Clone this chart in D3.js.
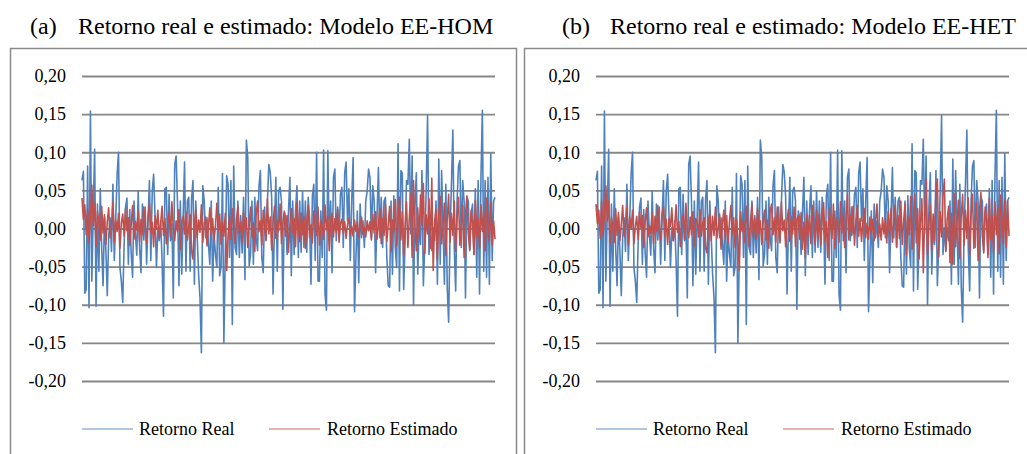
<!DOCTYPE html>
<meta charset="utf-8">
<script src="https://d3js.org/d3.v7.min.js"></script>
<style>
  body { margin: 0; background: #fff; }
</style>
<div id="chart"></div>
<script>

// retornos em % (0.063 -> 6.3)
var retornoReal = [
  6.3, 7.5, -8.5, -8.0, 8.2, -10.4, 15.4, -6.9, 2.0, 10.4,
  -10.2, 3.2, -5.6, 5.2, -2.5, -7.5, 1.5, -2.9, -8.8, -1.0,
  1.4, -3.0, 5.8, -4.2, 1.2, 7.1, 10.0, -5.1, -6.9, -9.7,
  -2.0, 2.8, 4.0, -4.7, 2.5, -3.2, -6.4, 3.6, -0.7, -3.5,
  4.9, -2.5, -5.8, 3.2, -1.5, 2.8, -4.7, 1.0, 6.3, -4.2,
  4.9, 7.1, 1.5, -5.1, 0.1, -1.6, 1.0, -4.2, -11.5, 5.2,
  5.4, -3.4, 4.5, -1.6, 0.6, -9.1, 8.4, 9.5, 3.2, -7.5,
  3.6, -6.0, 1.5, 8.7, -5.6, 3.6, 4.1, -5.6, 3.9, 6.3,
  -7.3, 3.6, -1.0, -6.0, -9.1, -16.3, 5.6, 3.6, -1.2, 1.4,
  -2.0, -4.7, 3.6, -6.9, -0.7, -3.4, -5.1, 5.4, -6.2, -5.1,
  7.2, -15.0, -3.4, 6.9, 5.8, -3.8, 6.3, -12.6, 8.2, -2.5,
  -3.4, 3.6, -3.8, 1.7, -3.2, 4.1, -6.7, 11.6, 9.3, -4.9,
  -3.4, 3.6, -4.7, 4.1, -1.2, -2.9, 5.6, 7.6, -3.8, -5.8,
  2.8, -1.6, 3.6, 8.4, 7.4, 4.1, -8.6, 0.1, 6.7, -5.6,
  4.9, 5.4, 3.6, -10.6, 2.3, 1.4,
  -3.4, 2.3, 6.7, -6.2, 3.6, -3.4, 2.3, 5.6, -3.8, 3.6,
  -3.1, 4.9, -2.5, 3.6, -3.1, 4.1, 1.4, -7.3, 4.3, 5.8,
  -4.2, 10.0, -6.9, -6.9, 2.3, -3.8, 10.3, -8.6, -10.7, 10.2,
  -1.6, 3.6, -5.8, 6.7, 7.8, -1.6, 2.8, -0.7, 4.5, 5.4,
  -2.5, 7.3, 8.7, 1.0, 5.2, -4.2, 3.6, 9.3, -10.9, -3.8,
  2.3, -7.1, 3.2, -1.2, 1.0, -2.5, 3.6, 4.9, 7.8, 6.7,
  -1.2, 5.6, 3.6, -5.8, 1.4, 8.0, -1.2, 4.1, -2.5, 3.6,
  4.1, -3.8, -7.5, -7.7, 3.6, -6.0, 4.3, -2.5, -5.1, 11.1,
  -8.2, 7.6, 7.3, -8.0, -1.6, 6.3, 5.8, 11.7, -0.7, 9.5,
  -10.0, 2.8, 7.3, -6.0, 0.6, -2.1, 7.6, -7.5, -2.1, 4.9,
  14.8, -3.4, 0.1, -2.9, 0.1, -1.6, 3.6, -7.3, 9.1, -4.7,
  7.6, 0.1, -7.3, 5.8, -7.7, -12.3, -0.7, 5.8, 12.9, -2.5,
  -8.2, 3.6, 8.2, 8.9, -2.5, 6.3, 3.6, -9.1, 4.1, 3.6,
  -2.9, 1.9, 3.2, -3.4, 5.2, -6.4, 6.3, -8.6, 6.7, 15.5,
  -5.6, 6.3, -6.4, 6.7, -7.3, 9.8, -4.2, 3.6, 4.1
];

var estimadoHom = [
  4.0, 1.2, 3.1, -0.8, 2.5, -1.9, 1.6, 5.7, 0.4, 3.3, -2.4, 2.2, 0.8, -1.5, 2.9,
  -0.6, 1.8, -2.1, 0.9, 2.7, -1.2, 0.3, 3.4, -1.8, 1.1, -0.4, 2.0, -2.6, 0.7, 1.9,
  -1.0, 2.6, -0.3, 1.4, -2.2, 0.5, 3.0, -1.4, 0.9, -0.2, 2.3, -1.7, 1.2, -0.8, 2.8,
  0.2, -1.9, 1.5, 3.2, -0.6, 0.8, -2.4, 1.7, -0.1, 2.4, -1.3, 0.6, 2.9, -0.9, 1.3,
  -2.0, 0.4, 2.1, -1.1, 3.5, 0.1, -1.6, 1.0, -0.4, 2.5, -2.7, 0.9, 1.6, -0.7, 2.2,
  -1.5, 0.3, 1.8, -2.9, -4.0, 0.6, 2.4, -1.2, 1.1, -0.5, 3.1, -1.8, 0.7, 1.5, -2.3,
  0.2, 2.7, -0.9, 1.3, -1.6, 0.4, 3.3, -0.3, 1.9, -2.1, 0.8, -1.0, 2.0, -5.5, -0.8,
  1.6, -1.4, 2.6, 0.1, -2.0, 1.2, 3.0, -0.6, 0.9, -1.8, 2.2, -0.2, 1.4, -2.5, 0.5,
  2.8, -1.1, 0.7, -3.0, 1.9, 3.6, -0.4, 1.0, -2.2, 2.4, 0.3, -1.5, 3.9, -0.7, 1.5,
  -2.8, 0.6, 2.9, -1.3, 1.1, -0.3, 3.2, -2.0, 0.8, 2.1, -1.0, 1.7, -3.1, 0.4, 2.6,
  -0.5, 1.3, -2.4, 3.4, 0.2, -1.7, 2.0, -0.8, 1.5, -2.6, 0.9, 3.0, -1.2, 0.5, -1.9,
  2.3, 0.1, -0.9, 2.8, -2.2, 1.0, 0.4, -1.4, 3.1, -0.2, 1.6, -2.9, 0.8, 2.0, -1.1,
  1.3, -0.5, 2.5, -1.8, 0.7, 1.2, -0.6, 0.9, -1.3, 0.5, 1.4, -0.8, 0.3, -1.0, 1.1,
  -0.4, 0.8, -1.2, 0.6, 1.5, -0.7, 0.2, -1.1, 1.0, -0.3, 0.9, -1.5, 1.8, -0.6, 2.2,
  -1.4, 0.5, 2.6, -2.0, 1.3, -0.9, 3.2, -1.7, 0.6, 2.9, -3.0, 1.1, -0.4, 3.8, -2.3,
  0.9, 4.1, -1.5, 2.2, -3.6, 0.3, 3.5, -2.5, 1.4, 4.6, -3.8, 6.3, 0.2, -2.9, 2.7,
  -1.2, 4.4, 0.5, 5.9, -3.3, 1.8, -0.7, 3.9, -2.6, 6.6, -5.5, 0.8, 2.5, -4.1, 1.6,
  4.2, -2.0, 0.3, 3.3, -3.5, 1.2, 4.5, -1.8, 2.0, -0.9, 3.6, -3.0, 1.5, 4.1, -2.2,
  0.6, 3.0, -3.8, 1.9, 4.3, -0.5, -2.8, 2.4, 0.7, -3.4, 3.7, -1.1, 1.3, -2.6, 3.1,
  -0.4, 2.3, -2.9, 4.0, 0.8, -1.6, 3.4, -2.1, 1.0, -1.4
];

var estimadoHet = [
  3.2, 0.6, 2.4, -1.3, 3.6, -0.9, 1.8, 5.6, 1.0, 3.6, -2.0, 1.4, 0.2, -1.8, 2.6,
  -0.9, 2.1, -1.6, 0.5, 3.0, -1.0, 0.8, 2.9, -2.2, 1.5, -0.1, 2.4, -2.0, 0.3, 1.6,
  -1.4, 2.2, 0.1, 1.7, -2.5, 0.9, 2.7, -1.1, 0.4, -0.6, 2.0, -2.0, 1.6, -0.3, 3.0,
  -0.2, -1.5, 1.9, 2.8, -1.0, 1.2, -2.1, 1.3, 0.3, 2.7, -1.6, 0.2, 3.1, -0.5, 0.9,
  -2.4, 0.8, 1.8, -1.4, 3.3, -0.3, -1.2, 1.5, -0.8, 2.2, -2.3, 1.3, 1.0, -1.1, 2.5,
  -1.0, 0.7, 1.4, -2.5, -3.2, 1.0, 2.0, -1.6, 1.6, -0.9, 2.8, -1.3, 0.2, 1.9, -2.7,
  0.6, 2.4, -1.3, 1.7, -2.0, 0.9, 3.0, -0.7, 1.4, -2.5, 1.2, -1.3, -5.5, 2.2, -0.4,
  1.1, -1.8, 2.9, 0.5, -2.4, 0.8, 3.3, -1.0, 1.3, -1.4, 2.6, -0.6, 1.0, -2.1, 0.9,
  2.4, -1.5, 1.1, -2.6, 2.3, 3.2, -0.8, 1.4, -1.8, 2.8, -0.1, -1.9, 3.5, -0.3, 1.1,
  -2.4, 1.0, 2.5, -1.7, 1.5, -0.7, 2.8, -2.4, 1.2, 1.7, -1.4, 2.1, -2.7, 0.8, -3.8,
  1.9, -0.9, 1.7, -2.0, 3.0, 0.6, -2.1, 2.4, -1.2, 1.9, -2.2, 1.3, 3.4, -1.6, 0.9,
  -3.8, 2.7, 0.5, -1.3, 3.2, -2.6, 1.4, 0.8, -1.8, 3.5, -0.6, 2.0, -2.5, 1.2, 4.5,
  -1.5, 1.7, -0.9, 2.9, -2.2, 1.1, 3.0, -1.0, 1.3, -1.7, 0.9, 2.6, -1.2, 0.7, -1.4,
  1.5, -0.8, 1.2, -1.6, 1.0, 3.2, -1.1, 0.6, -1.5, 1.4, -0.7, 1.3, -1.9, 2.2, -1.0,
  2.6, -1.8, 0.9, 3.0, -2.4, 1.7, -1.3, 3.6, -2.1, 1.0, 3.3, -3.4, 1.5, -0.8, 4.2,
  -2.7, 1.3, 4.5, -1.9, 2.6, -4.0, 0.7, 3.9, -5.8, 1.8, 6.5, -3.4, 0.6, 3.1, -2.9,
  1.9, -1.6, 4.8, 6.5, -3.7, 2.2, -1.1, 4.3, 6.5, -3.0, 1.2, 2.9, -4.5, 2.0, -4.7,
  4.6, -2.4, 0.7, 3.7, -3.9, 1.6, 4.5, -2.2, 2.4, -1.3, 4.0, -3.4, 1.9, 4.5, -2.6,
  1.0, 3.4, -4.2, 2.3, 4.7, -0.9, -3.2, 2.8, 1.1, -3.8, 4.0, -1.5, 1.7, -3.0, 3.5,
  -0.8, 2.7, -3.3, 4.4, 1.2, -2.0, 3.8, -2.5, 3.6, -1.0
];

var yTicks = [0.20, 0.15, 0.10, 0.05, 0.00, -0.05, -0.10, -0.15, -0.20];
var letras = ["(a)", "(b)"];
var titulos = ["Retorno real e estimado: Modelo EE-HOM", "Retorno real e estimado: Modelo EE-HET"];
var legendaNomes = ["Retorno Real", "Retorno Estimado"];

var corReal = "#4F81BD",
    corEstimado = "#C0504D",
    fonte = "'Liberation Serif', 'Times New Roman', serif";

var ptBR = d3.formatLocale({decimal: ",", thousands: ".", grouping: [3], currency: ["R$", ""], minus: "-"});
var fmt = ptBR.format(".2f");

var svg = d3.select("#chart")
  .append("svg")
    .attr("width", 1027)
    .attr("height", 454)
    .style("background", "#fff");

var x = d3.scaleLinear()
  .domain([0, retornoReal.length - 1])
  .range([82, 495]);

var y = d3.scaleLinear()
  .domain([-0.2, 0.2])
  .range([381, 76]);

var line = d3.line()
  .x(function(d, i) { return x(i); })
  .y(function(d) { return y(d / 100); });

function painel(offset, estimado, k) {
  var g = svg.append("g").attr("transform", "translate(" + offset + ",0)");

  // moldura
  g.append("rect")
    .attr("x", 10.5).attr("y", 48.5)
    .attr("width", k == 0 ? 506 : 520).attr("height", 430)
    .attr("fill", "none")
    .attr("stroke", "#8a8a8a")
    .attr("stroke-width", 1.5);

  // titulo (o do painel b fica um pouco mais a direita)
  var tx = k == 0 ? 0 : 18;
  g.append("text")
    .attr("x", 30 + tx).attr("y", 34)
    .style("font-family", fonte).style("font-size", "24px")
    .text(letras[k]);
  g.append("text")
    .attr("x", 78 + tx).attr("y", 34)
    .style("font-family", fonte).style("font-size", "24px")
    .text(titulos[k]);

  // eixo y + grade
  var ax = g.append("g")
    .attr("transform", "translate(82,0)")
    .call(d3.axisLeft(y)
      .tickValues(yTicks)
      .tickSize(-(495 - 82))
      .tickPadding(16)
      .tickFormat(fmt))
    .attr("font-family", fonte)
    .attr("font-size", 18);
  ax.select(".domain").remove();
  ax.selectAll(".tick line")
    .attr("stroke", "#868686")
    .attr("stroke-width", 1.8);
  ax.selectAll(".tick text")
    .style("font-family", fonte)
    .style("font-size", "18px")
    .attr("fill", "#000");

  g.append("path")
    .datum(retornoReal)
    .attr("fill", "none")
    .attr("stroke", corReal)
    .attr("stroke-width", 1.6)
    .attr("stroke-linejoin", "round")
    .attr("d", line);

  g.append("path")
    .datum(estimado)
    .attr("fill", "none")
    .attr("stroke", corEstimado)
    .attr("stroke-width", 1.6)
    .attr("stroke-linejoin", "round")
    .attr("d", line);

  // legenda
  var leg = [[82, 139, corReal], [269, 327, corEstimado]];
  leg.forEach(function(l, j) {
    g.append("line")
      .attr("x1", l[0]).attr("x2", l[0] + 51)
      .attr("y1", 429).attr("y2", 429)
      .attr("stroke", l[2])
      .attr("stroke-opacity", 0.6)
      .attr("stroke-width", 1.5);
    g.append("text")
      .attr("x", l[1]).attr("y", 435)
      .style("font-family", fonte).style("font-size", "18px")
      .text(legendaNomes[j]);
  });
}

painel(0, estimadoHom, 0);
painel(514, estimadoHet, 1);

</script>
